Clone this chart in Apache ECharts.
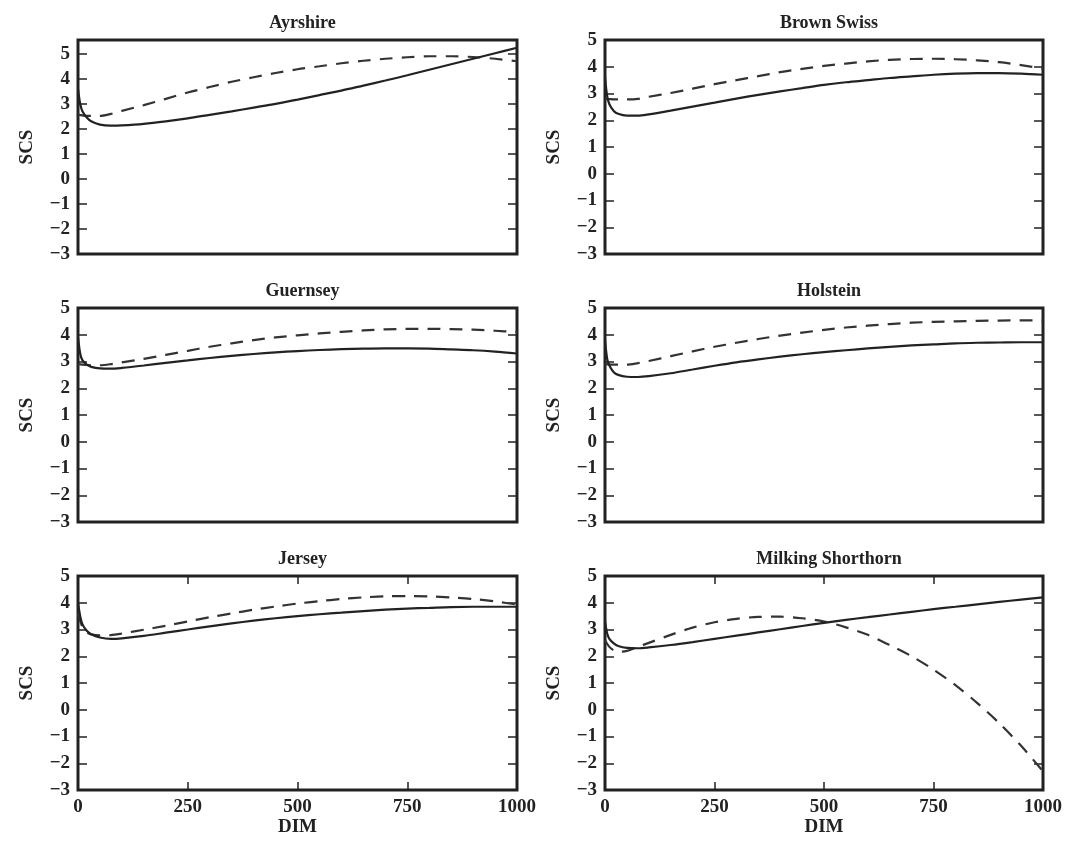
<!DOCTYPE html>
<html><head><meta charset="utf-8">
<script src="https://cdn.jsdelivr.net/npm/echarts@6/dist/echarts.min.js"></script>
<style>html,body{margin:0;padding:0;background:#fff}#c{width:1073px;height:841px}</style>
</head><body><div id="c"></div>
<script>
// DIM positions at which the curves were read
const dim = [0,5,10,20,30,50,75,100,150,200,250,300,350,400,450,500,550,600,650,700,750,800,850,900,950,1000];
const dimDash = [0,10,20,30,50,75,100,150,200,250,300,350,400,450,500,550,600,650,700,750,800,850,900,950,1000];

const breeds = ["Ayrshire","Brown Swiss","Guernsey","Holstein","Jersey","Milking Shorthorn"];

const ayrshireSolid = [3.6,3.0,2.7,2.45,2.3,2.17,2.13,2.14,2.2,2.3,2.42,2.56,2.7,2.85,3.0,3.17,3.35,3.53,3.73,3.93,4.14,4.36,4.58,4.8,5.02,5.24];
const ayrshireDash  = [2.58,2.54,2.52,2.52,2.52,2.6,2.72,2.95,3.2,3.45,3.67,3.88,4.06,4.23,4.38,4.5,4.62,4.72,4.8,4.86,4.9,4.9,4.87,4.8,4.7];

const brownSwissSolid = [3.6,2.9,2.6,2.35,2.24,2.17,2.17,2.22,2.36,2.51,2.66,2.81,2.95,3.08,3.2,3.32,3.42,3.5,3.58,3.64,3.7,3.74,3.76,3.76,3.74,3.7];
const brownSwissDash  = [2.8,2.79,2.78,2.78,2.78,2.8,2.88,3.02,3.18,3.35,3.5,3.65,3.8,3.92,4.03,4.12,4.2,4.26,4.29,4.3,4.28,4.24,4.17,4.06,3.93];

const guernseySolid = [3.9,3.3,3.05,2.88,2.8,2.74,2.73,2.76,2.85,2.95,3.04,3.13,3.21,3.28,3.34,3.39,3.43,3.46,3.48,3.49,3.49,3.48,3.45,3.42,3.37,3.3];
const guernseyDash  = [2.9,2.88,2.87,2.86,2.86,2.9,2.97,3.1,3.25,3.4,3.55,3.68,3.8,3.9,3.98,4.05,4.11,4.16,4.2,4.22,4.22,4.21,4.19,4.15,4.1];

const holsteinSolid = [3.8,3.1,2.85,2.6,2.5,2.43,2.42,2.45,2.56,2.7,2.84,2.97,3.08,3.18,3.27,3.35,3.42,3.49,3.55,3.6,3.64,3.68,3.7,3.71,3.72,3.72];
const holsteinDash  = [2.9,2.89,2.88,2.88,2.88,2.94,3.02,3.2,3.38,3.55,3.7,3.84,3.97,4.08,4.18,4.27,4.34,4.4,4.45,4.48,4.5,4.52,4.53,4.54,4.54];

const jerseySolid = [4.0,3.5,3.2,2.95,2.82,2.7,2.65,2.67,2.76,2.88,3.0,3.12,3.23,3.33,3.42,3.5,3.57,3.63,3.69,3.74,3.78,3.81,3.84,3.85,3.85,3.85];
const jerseyDash  = [3.6,3.1,2.9,2.82,2.78,2.79,2.85,2.99,3.14,3.3,3.46,3.6,3.74,3.86,3.97,4.06,4.14,4.2,4.24,4.25,4.24,4.2,4.14,4.05,3.93];

const shorthornSolid = [3.3,2.85,2.65,2.48,2.38,2.31,2.3,2.33,2.42,2.53,2.65,2.77,2.89,3.01,3.13,3.25,3.36,3.46,3.56,3.66,3.76,3.85,3.94,4.03,4.12,4.2];
const shorthornDash  = [2.6,2.35,2.22,2.17,2.2,2.35,2.5,2.8,3.07,3.27,3.4,3.47,3.48,3.42,3.3,3.08,2.8,2.42,2.0,1.5,0.92,0.25,-0.5,-1.35,-2.3];

const solidSets = [ayrshireSolid,brownSwissSolid,guernseySolid,holsteinSolid,jerseySolid,shorthornSolid];
const dashSets  = [ayrshireDash,brownSwissDash,guernseyDash,holsteinDash,jerseyDash,shorthornDash];
const yMaxes = [5.55,5,5,5,5,5];

const FONT = "Liberation Serif";
const INK = "#222";
const FS = 19;
const colLeft = [78,605], colWidth = [439,438];
const rowTop = [40,308,576], rowHeight = 214;
const fmtY = v => Number.isInteger(v) ? String(v).replace('-', '\u2212') : '';
const fmtX = v => String(v);

const grids=[], xAxes=[], yAxes=[], series=[], titles=[];
breeds.forEach((name,i)=>{
  const c=i%2, r=Math.floor(i/2), bottom = r===2;
  grids.push({left:colLeft[c], top:rowTop[r], width:colWidth[c], height:rowHeight,
    show:true, borderColor:INK, borderWidth:3, backgroundColor:'transparent'});
  titles.push({text:name, left:colLeft[c]+colWidth[c]/2, top:rowTop[r]-31, textAlign:'center',
    textStyle:{fontFamily:FONT,fontWeight:'bold',fontSize:18,color:INK}});
  const xBase = {type:'value', gridIndex:i, min:0, max:1000, interval:250,
    axisLine:{show:false, onZero:false}, splitLine:{show:false}};
  xAxes.push(Object.assign({}, xBase, {position:'bottom',
    axisTick:{show:bottom, inside:true, length:8, lineStyle:{color:INK,width:1.5}},
    axisLabel:{show:bottom, margin:8, formatter:fmtX, fontFamily:FONT, fontWeight:'bold', fontSize:FS, color:INK},
    name: bottom?'DIM':'', nameLocation:'middle', nameGap:28,
    nameTextStyle:{fontFamily:FONT,fontWeight:'bold',fontSize:FS,color:INK}}));
  xAxes.push(Object.assign({}, xBase, {position:'top',
    axisTick:{show:bottom, inside:true, length:8, lineStyle:{color:INK,width:1.5}},
    axisLabel:{show:false}}));
  const yBase = {type:'value', gridIndex:i, min:-3, max:yMaxes[i], interval:1,
    axisLine:{show:false, onZero:false}, splitLine:{show:false},
    axisTick:{inside:true, length:9, lineStyle:{color:INK,width:1.5}}};
  yAxes.push(Object.assign({}, yBase, {position:'left',
    axisLabel:{margin:8, formatter:fmtY, fontFamily:FONT, fontWeight:'bold', fontSize:FS, color:INK},
    name:'SCS', nameLocation:'middle', nameGap:41,
    nameTextStyle:{fontFamily:FONT,fontWeight:'bold',fontSize:FS,color:INK}}));
  yAxes.push(Object.assign({}, yBase, {position:'right', axisLabel:{show:false}}));
  series.push({type:'line', xAxisIndex:2*i, yAxisIndex:2*i, showSymbol:false, smooth:0.3,
    data: dim.map((d,k)=>[d, solidSets[i][k]]),
    lineStyle:{color:INK, width:2.2}, z:3, silent:true});
  series.push({type:'line', xAxisIndex:2*i, yAxisIndex:2*i, showSymbol:false, smooth:0.3,
    data: dimDash.map((d,k)=>[d, dashSets[i][k]]),
    lineStyle:{color:'#333', width:2.2, type:[13,9]}, z:2, silent:true});
});

const chart = echarts.init(document.getElementById('c'), null, {renderer:'canvas'});
chart.setOption({animation:false, backgroundColor:'#fff', title:titles, grid:grids, xAxis:xAxes, yAxis:yAxes, series:series});
</script></body></html>
